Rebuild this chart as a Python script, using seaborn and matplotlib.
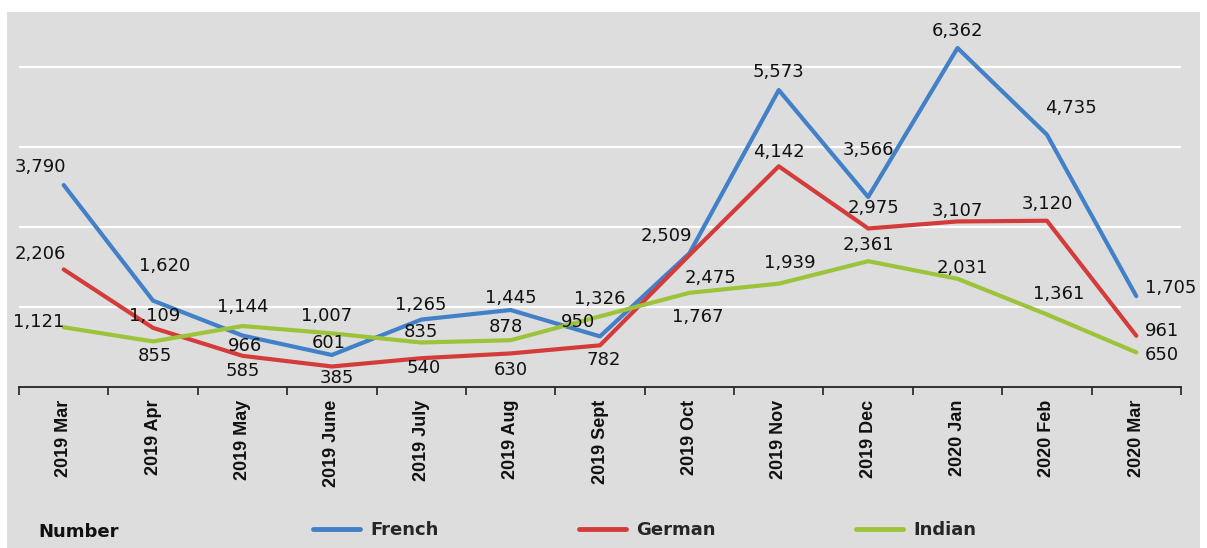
import matplotlib
matplotlib.use("Agg")
import matplotlib.pyplot as plt
import seaborn as sns
import pandas as pd
import numpy as np
from matplotlib.patches import Rectangle
from matplotlib.ticker import FixedLocator

months = ["2019 Mar", "2019 Apr", "2019 May", "2019 June", "2019 July", "2019 Aug",
          "2019 Sept", "2019 Oct", "2019 Nov", "2019 Dec", "2020 Jan", "2020 Feb", "2020 Mar"]
french = [3790, 1620, 966, 601, 1265, 1445, 950, 2509, 5573, 3566, 6362, 4735, 1705]
german = [2206, 1109, 585, 385, 540, 630, 782, 2475, 4142, 2975, 3107, 3120, 961]
indian = [1121, 855, 1144, 1007, 835, 878, 1326, 1767, 1939, 2361, 2031, 1361, 650]
series_names = ["French", "German", "Indian"]
colors = {"French": "#4281c8", "German": "#d43c3c", "Indian": "#9dc33a"}

# label offsets (pixels) for data labels
offsets = {
    "French": [(-23, 18), (12, 35), (3, -10), (-3, 12), (0, 15), (0, 12), (-22, 14),
               (-23, 17), (0, 18), (0, 47), (0, 17), (24, 27), (34, 8)],
    "German": [(-23, 15), (2, 12), (0, -15), (5, -12), (2, -10), (0, -17), (4, -15),
               (21, -23), (0, 14), (5, 20), (0, 10), (0, 17), (26, 5)],
    "Indian": [(-25, 5), (2, -15), (0, 19), (-5, 17), (0, 11), (-5, 13), (0, 17),
               (8, -24), (11, 21), (0, 16), (5, 11), (12, 20), (26, -3)],
}

df = pd.DataFrame({
    "Month": months * 3,
    "Value": french + german + indian,
    "Series": ["French"] * len(months) + ["German"] * len(months) + ["Indian"] * len(months),
})
df["x"] = list(range(len(months))) * 3

sns.set_theme(style="white")
plt.rcParams["font.family"] = ["Liberation Sans", "DejaVu Sans"]
wide_font = ["DejaVu Sans"]

fig = plt.figure(figsize=(12.07, 5.48), dpi=100, facecolor="white")
W, H = 1207, 548
bg = Rectangle((7 / W, 0), (1200 - 7) / W, (H - 12) / H,
               transform=fig.transFigure, facecolor="#dddddd",
               edgecolor="none", zorder=-10)
fig.add_artist(bg)

ax = fig.add_axes([19 / W, 1 - 387 / H, (1181 - 19) / W, (387 - 14) / H])
ax.set_facecolor("none")
ax.set_zorder(5)

for y in [1500, 3000, 4500, 6000]:
    ax.axhline(y, color="white", lw=1.6, zorder=1)

sns.lineplot(data=df, x="x", y="Value", hue="Series", palette=colors,
             hue_order=series_names, lw=3, ax=ax, legend=False, zorder=3)

vals = {"French": french, "German": german, "Indian": indian}
for s in series_names:
    for i, v in enumerate(vals[s]):
        dx, dy = offsets[s][i]
        ax.annotate(f"{v:,}", (i, v), xytext=(dx, dy), textcoords="offset pixels",
                    ha="center", va="center", fontsize=13, family=wide_font,
                    color="#111111", zorder=4)

ax.set_xlim(-0.5, len(months) - 0.5)
ax.set_ylim(0, 7000)
ax.set_xticks(range(len(months)))
ax.set_xticklabels(months, rotation=90, fontweight="bold", fontsize=13, color="#111111")
ax.xaxis.set_minor_locator(FixedLocator(np.arange(-0.5, len(months), 1.0)))
ax.tick_params(axis="x", which="major", length=0, pad=9)
ax.tick_params(axis="x", which="minor", length=6, width=1.2, color="#222222", direction="out", bottom=True)
ax.set_yticks([])
ax.set_xlabel("")
ax.set_ylabel("")
for sp in ["top", "right", "left"]:
    ax.spines[sp].set_visible(False)
ax.spines["bottom"].set_color("#222222")
ax.spines["bottom"].set_linewidth(1.3)

fig.text(38 / W, 1 - 532 / H, "Number", fontsize=13, fontweight="bold", family=wide_font,
         va="center", ha="left", color="#111111")

handles = [plt.Line2D([], [], color=colors[s], lw=3.5) for s in series_names]
leg = fig.legend(handles, series_names, loc="center left",
                 bbox_to_anchor=(313 / W, 1 - 530 / H), ncol=3, frameon=False,
                 prop={"weight": "bold", "size": 13, "family": wide_font},
                 borderaxespad=0, borderpad=0,
                 handlelength=2.6, handletextpad=0.55, columnspacing=7.8)

fig.savefig("out.png", dpi=100, facecolor="white")
